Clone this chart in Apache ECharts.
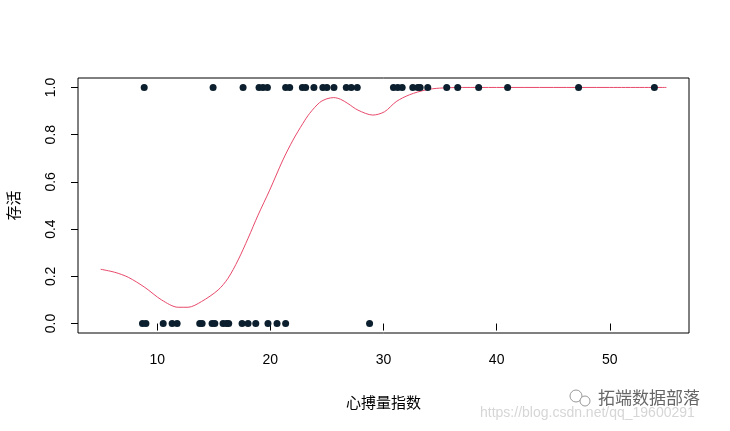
<!DOCTYPE html>
<html>
<head>
<meta charset="utf-8">
<script src="https://cdn.jsdelivr.net/npm/echarts@6/dist/echarts.min.js"></script>
<style>
html,body{margin:0;padding:0;background:#fff;}
#c{width:730px;height:431px;}
</style>
</head>
<body>
<div id="c"></div>
<script>
// Observations: heart stroke volume index of survivors (y=1) and non-survivors (y=0)
const survivedX = [8.85, 14.94, 17.59, 19.0, 19.35, 19.74, 21.35, 21.71, 22.83, 23.12, 23.85,
  24.64, 25.0, 25.62, 26.71, 27.15, 27.68, 30.88, 31.26, 31.65, 32.59, 33.03, 33.24, 33.91,
  35.59, 36.56, 38.41, 40.97, 47.24, 53.94];
const diedX = [8.7, 9.0, 10.53, 11.32, 11.76, 13.76, 13.97, 14.85, 15.09, 15.82, 16.12, 16.32,
  17.5, 18.03, 18.71, 19.79, 20.59, 21.35, 28.77];
// Fitted curve (smoothed probability of survival)
const curveX = [5.0, 6.26, 7.44, 8.91, 10.39, 11.85, 12.73, 13.91, 15.38, 16.26, 17.15, 18.03,
  18.91, 19.94, 21.11, 22.0, 22.88, 23.47, 24.35, 25.0, 25.6, 26.2, 26.85, 27.74, 29.06, 30.09,
  31.12, 32.3, 33.77, 34.94, 37.0, 40.0, 45.0, 50.0, 55.0];
const curveY = [0.23, 0.217, 0.196, 0.153, 0.10, 0.069, 0.069, 0.093, 0.142, 0.192, 0.269, 0.361,
  0.459, 0.565, 0.693, 0.777, 0.848, 0.890, 0.936, 0.952, 0.957, 0.950, 0.932, 0.904, 0.883, 0.897,
  0.940, 0.969, 0.990, 0.997, 1.0, 1.0, 1.0, 1.0, 1.0];
const xTicks = [10, 20, 30, 40, 50];
const yTicks = [0.0, 0.2, 0.4, 0.6, 0.8, 1.0];
const xTitle = '心搏量指数';
const yTitle = '存活';

const chart = echarts.init(document.getElementById('c'), null, {renderer: 'canvas'});
const txt = '#000';
const font = '"Liberation Sans", Arial, sans-serif';
const cjk = '"Noto Sans CJK SC", sans-serif';

chart.setOption({
  animation: false,
  backgroundColor: '#fff',
  grid: {left: 78, right: 41, top: 78, bottom: 98, containLabel: false, outerBoundsMode: 'none',
    show: true, borderColor: '#000', borderWidth: 1, backgroundColor: 'transparent'},
  xAxis: {
    type: 'value', min: 3, max: 57,
    name: xTitle, nameLocation: 'middle', nameGap: 62,
    nameTextStyle: {fontFamily: cjk, fontSize: 15, color: txt},
    axisLine: {show: false},
    axisTick: {show: true, length: 7, customValues: xTicks, lineStyle: {color: '#000'}},
    axisLabel: {customValues: xTicks, margin: 20, fontFamily: font, fontSize: 14, color: txt},
    splitLine: {show: false}
  },
  yAxis: {
    type: 'value', min: -0.04, max: 1.04,
    name: yTitle, nameLocation: 'middle', nameGap: 57, nameRotate: 90,
    nameTextStyle: {fontFamily: cjk, fontSize: 15, color: txt},
    axisLine: {show: false},
    axisTick: {show: true, length: 7, customValues: yTicks, lineStyle: {color: '#000'}},
    axisLabel: {customValues: yTicks, rotate: 90, margin: 20, fontFamily: font, fontSize: 14, color: txt,
      formatter: v => v.toFixed(1)},
    splitLine: {show: false}
  },
  series: [
    {
      type: 'line', data: curveX.map((x, i) => [x, curveY[i]]), smooth: 0.3, showSymbol: false,
      lineStyle: {color: '#e8496b', width: 1}, z: 2
    },
    {
      type: 'scatter', data: survivedX.map(x => [x, 1]), symbolSize: 7,
      itemStyle: {color: '#0b1f2e', opacity: 1}, z: 3
    },
    {
      type: 'scatter', data: diedX.map(x => [x, 0]), symbolSize: 7,
      itemStyle: {color: '#0b1f2e', opacity: 1}, z: 3
    }
  ],
  graphic: [
    {type: 'circle', shape: {cx: 576, cy: 396, r: 6}, style: {fill: 'none', stroke: '#999', lineWidth: 1}},
    {type: 'circle', shape: {cx: 585, cy: 401, r: 5}, style: {fill: '#fff', stroke: '#999', lineWidth: 1}},
    {type: 'text', left: 598, top: 389, style: {text: '拓端数据部落', font: '17px "Noto Sans CJK SC"', fill: '#666'}},
    {type: 'text', left: 480, top: 406, style: {text: 'https://blog.csdn.net/qq_19600291', font: '14px "Liberation Sans"', fill: '#d6d6d6'}}
  ]
});
</script>
</body>
</html>
